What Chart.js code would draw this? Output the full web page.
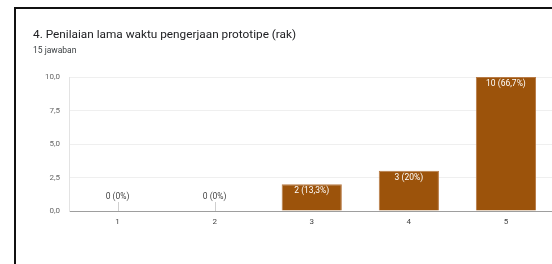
<!DOCTYPE html>
<html><head><meta charset="utf-8">
<script src="https://cdn.jsdelivr.net/npm/chart.js@4"></script>
<style>
html,body{margin:0;padding:0;width:552px;height:264px;overflow:hidden;background:#fff;}
#frame{position:absolute;left:14px;top:7px;width:600px;height:300px;border-left:2px solid #111;border-top:2px solid #111;}
#title{position:absolute;left:33px;top:27px;font-family:Roboto,sans-serif;font-size:11.8px;color:#202124;white-space:nowrap;}
#sub{position:absolute;left:33px;top:45px;font-family:Roboto,sans-serif;font-size:8.5px;color:#3c4043;white-space:nowrap;}
#c{position:absolute;left:0;top:0;}
</style></head>
<body>
<div id="frame"></div>
<canvas id="c" width="560" height="264"></canvas>
<div id="title">4. Penilaian lama waktu pengerjaan prototipe (rak)</div>
<div id="sub">15 jawaban</div>
<script>
const categories = ['1','2','3','4','5'];
const counts = [0, 0, 2, 3, 10];
const percentLabels = ['0%','0%','13,3%','20%','66,7%'];
const yTicks = [0, 2.5, 5, 7.5, 10];

const labelPlugin = {
  id:'barLabels',
  afterDatasetsDraw(chart){
    const ctx = chart.ctx;
    const meta = chart.getDatasetMeta(0);
    const yScale = chart.scales.y;
    ctx.save();
    ctx.font = '8.5px Roboto, sans-serif';
    ctx.textAlign = 'center';
    ctx.textBaseline = 'middle';
    meta.data.forEach((bar,i)=>{
      const txt = counts[i] + ' (' + percentLabels[i] + ')';
      const base = yScale.getPixelForValue(0);
      if(counts[i] === 0){
        ctx.strokeStyle = '#cfcfcf';
        ctx.lineWidth = 1;
        ctx.beginPath();
        ctx.moveTo(Math.round(bar.x)+0.5, base);
        ctx.lineTo(Math.round(bar.x)+0.5, base-9);
        ctx.stroke();
        ctx.fillStyle = '#444';
        ctx.fillText(txt, bar.x, base-14);
      } else {
        ctx.fillStyle = '#ffffff';
        ctx.fillText(txt, bar.x, bar.y+7);
      }
    });
    ctx.restore();
  }
};

new Chart(document.getElementById('c'), {
  type:'bar',
  data:{
    labels: categories,
    datasets:[{
      data: counts,
      backgroundColor:'#9c530b',
      borderColor:'#b77a45',
      borderWidth:{top:1,left:1,right:1,bottom:0},
      barPercentage:0.62,
      categoryPercentage:1.0
    }]
  },
  options:{
    responsive:false,
    animation:false,
    layout:{padding:{left:29,top:77,right:5.5,bottom:30}},
    plugins:{legend:{display:false},tooltip:{enabled:false},title:{display:false}},
    scales:{
      x:{
        grid:{display:false,drawTicks:false},
        border:{display:true,color:'#9e9e9e',width:1},
        ticks:{color:'#444',font:{family:'Roboto',size:8},padding:6},
        afterFit(s){ s.height = 23; }
      },
      y:{
        min:0,max:10,
        afterBuildTicks(s){ s.ticks = yTicks.map(v=>({value:v})); },
        grid:{color:'#efefef',drawTicks:false},
        border:{display:true,color:'#e3e3e3'},
        ticks:{color:'#666',font:{family:'Roboto',size:8},padding:9,
          callback:(v)=>Number(v).toFixed(1).replace('.',',')},
        afterFit(s){ s.width = 40; }
      }
    }
  },
  plugins:[labelPlugin]
});
</script>
</body></html>
